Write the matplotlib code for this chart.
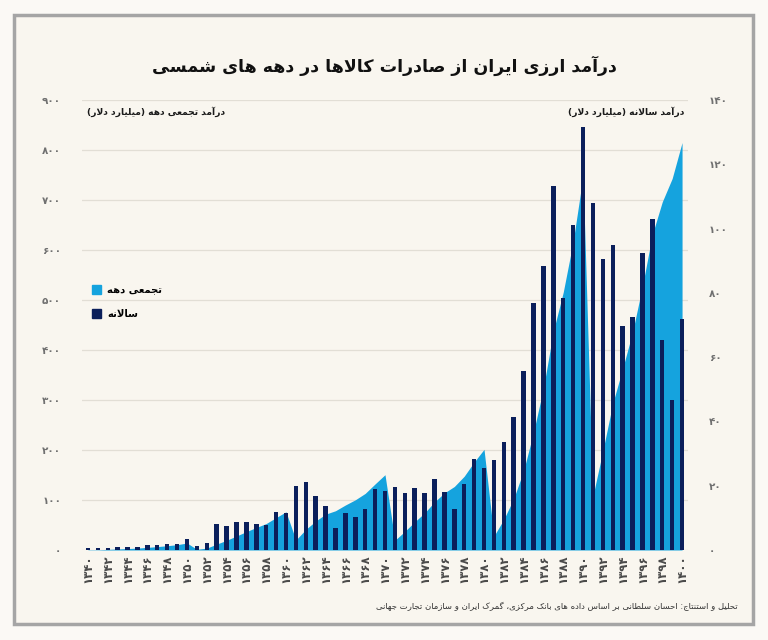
import matplotlib

matplotlib.use('Agg')
import matplotlib.pyplot as plt
import matplotlib.patches as mpatches
import numpy as np
import pandas as pd

# annual export revenue, billion USD, 1340..1400
years = np.arange(1340, 1401)
annual = [0.6, 0.6, 0.7, 0.8, 0.8, 0.9, 1.5, 1.5, 1.8, 2.0, 3.4,
          1.4, 2.3, 8.1, 7.6, 8.6, 8.8, 8.2, 7.9, 11.9, 11.6,
          20.0, 21.2, 16.7, 13.8, 6.8, 11.5, 10.4, 12.8, 19.0, 18.4,
          19.5, 17.7, 19.2, 17.8, 22.0, 18.0, 12.8, 20.6, 28.3, 25.4,
          27.9, 33.5, 41.5, 55.8, 76.8, 88.4, 113.3, 78.4, 101.0, 131.6,
          107.9, 90.4, 94.8, 69.8, 72.6, 92.4, 103.1, 65.3, 46.7, 71.9]
left_ticks = [0, 100, 200, 300, 400, 500, 600, 700, 800, 900]
right_ticks = [0, 20, 40, 60, 80, 100, 120, 140]
year_ticks = list(range(1340, 1401, 2))

TITLE = 'درآمد ارزی ایران از صادرات کالاها در دهه های شمسی'
LEFT_LABEL = 'درآمد تجمعی دهه (میلیارد دلار)'
RIGHT_LABEL = 'درآمد سالانه (میلیارد دلار)'
LEG_CUM = 'تجمعی دهه'
LEG_ANNUAL = 'سالانه'
SOURCE = 'تحلیل و استنتاج: احسان سلطانی بر اساس داده های بانک مرکزی، گمرک ایران و سازمان تجارت جهانی'

AREA_COLOR = '#15a3de'
BAR_COLOR = '#0b1f5b'

# presentation forms: isolated, final, initial, medial
_FORMS = {
    'ا': ('\uFE8D', '\uFE8E', None, None),
    'آ': ('\uFE81', '\uFE82', None, None),
    'ب': ('\uFE8F', '\uFE90', '\uFE91', '\uFE92'),
    'ت': ('\uFE95', '\uFE96', '\uFE97', '\uFE98'),
    'ج': ('\uFE9D', '\uFE9E', '\uFE9F', '\uFEA0'),
    'ح': ('\uFEA1', '\uFEA2', '\uFEA3', '\uFEA4'),
    'د': ('\uFEA9', '\uFEAA', None, None),
    'ر': ('\uFEAD', '\uFEAE', None, None),
    'ز': ('\uFEAF', '\uFEB0', None, None),
    'س': ('\uFEB1', '\uFEB2', '\uFEB3', '\uFEB4'),
    'ش': ('\uFEB5', '\uFEB6', '\uFEB7', '\uFEB8'),
    'ص': ('\uFEB9', '\uFEBA', '\uFEBB', '\uFEBC'),
    'ط': ('\uFEC1', '\uFEC2', '\uFEC3', '\uFEC4'),
    'ع': ('\uFEC9', '\uFECA', '\uFECB', '\uFECC'),
    'ل': ('\uFEDD', '\uFEDE', '\uFEDF', '\uFEE0'),
    'م': ('\uFEE1', '\uFEE2', '\uFEE3', '\uFEE4'),
    'ن': ('\uFEE5', '\uFEE6', '\uFEE7', '\uFEE8'),
    'ه': ('\uFEE9', '\uFEEA', '\uFEEB', '\uFEEC'),
    'و': ('\uFEED', '\uFEEE', None, None),
    'ک': ('\uFB8E', '\uFB8F', '\uFB90', '\uFB91'),
    'گ': ('\uFB92', '\uFB93', '\uFB94', '\uFB95'),
    'ی': ('\uFBFC', '\uFBFD', '\uFBFE', '\uFBFF'),
}
_LAM_ALEF = {'ا': ('\uFEFB', '\uFEFC'), 'آ': ('\uFEF5', '\uFEF6')}


def _dual(ch):
    return ch in _FORMS and _FORMS[ch][2] is not None


def fa(text):
    # poor man's arabic shaping + rtl ordering
    out = []
    i = 0
    n = len(text)
    while i < n:
        c = text[i]
        if c not in _FORMS:
            out.append(c)
            i += 1
            continue
        joins_prev = i > 0 and _dual(text[i - 1])
        if c == 'ل' and i + 1 < n and text[i + 1] in _LAM_ALEF:
            out.append(_LAM_ALEF[text[i + 1]][1 if joins_prev else 0])
            i += 2
            continue
        joins_next = _dual(c) and i + 1 < n and text[i + 1] in _FORMS
        iso, fin, ini, med = _FORMS[c]
        if joins_prev and joins_next:
            out.append(med)
        elif joins_prev:
            out.append(fin)
        elif joins_next:
            out.append(ini)
        else:
            out.append(iso)
        i += 1
    return ''.join(out)[::-1].translate(str.maketrans('()', ')('))


def fa_num(v):
    return str(v).translate(str.maketrans('0123456789', '۰۱۲۳۴۵۶۷۸۹'))


plt.rcParams['font.family'] = ['DejaVu Sans']

df = pd.DataFrame({'year': years, 'annual': annual})
df['decade'] = (df['year'] - 1) // 10
df['cum'] = df.groupby('decade')['annual'].cumsum()

fig = plt.figure(figsize=(7.68, 6.4), dpi=100, facecolor='#fbf9f5')
fig.patches.append(mpatches.Rectangle((14 / 768, 1 - 624 / 640), 739 / 768, 609 / 640,
                                      transform=fig.transFigure, facecolor='#f9f6ef',
                                      edgecolor='#a5a5a5', linewidth=2.5, zorder=-1))

ax = fig.add_axes([82 / 768, 1 - 550 / 640, 606 / 768, 450 / 640])
ax.set_facecolor('none')
ax.fill_between(df['year'], 0, df['cum'], color=AREA_COLOR, linewidth=0)
ax.set_ylim(0, 900)
ax.set_xlim(1339.4, 1400.6)
ax.set_yticks(left_ticks)
ax.set_yticklabels([fa_num(t) for t in left_ticks], color='#707070', fontsize=7.5, fontweight='bold')
ax.grid(axis='y', color='#e2ded5', linewidth=0.9)
ax.set_axisbelow(True)
ax.set_xticks(year_ticks)
ax.set_xticklabels([fa_num(y) for y in year_ticks], rotation=90, fontsize=8.5,
                   fontweight='bold', color='#4a4a4a')
ax.tick_params(length=0)
ax.tick_params(axis='y', pad=15)
ax.tick_params(axis='x', pad=3)
for s in ax.spines.values():
    s.set_visible(False)

ax2 = ax.twinx()
ax2.bar(df['year'], df['annual'], width=0.45, color=BAR_COLOR)
ax2.set_ylim(0, 140)
ax2.set_yticks(right_ticks)
ax2.set_yticklabels([fa_num(t) for t in right_ticks], color='#707070', fontsize=7.5, fontweight='bold')
ax2.tick_params(length=0, pad=15)
for s in ax2.spines.values():
    s.set_visible(False)

fig.text(0.5, 1 - 66 / 640, fa(TITLE), ha='center', va='center', fontsize=12.5,
         fontweight='bold', color='#111111')
fig.text(87 / 768, 1 - 112 / 640, fa(LEFT_LABEL), ha='left', va='center', fontsize=6.6,
         fontweight='bold', color='#1a1a1a')
fig.text(684 / 768, 1 - 112 / 640, fa(RIGHT_LABEL), ha='right', va='center', fontsize=6.6,
         fontweight='bold', color='#1a1a1a')

handles = [mpatches.Patch(color=AREA_COLOR, label=fa(LEG_CUM)),
           mpatches.Patch(color=BAR_COLOR, label=fa(LEG_ANNUAL))]
fig.legend(handles=handles, loc='upper left', bbox_to_anchor=(87 / 768, 1 - 280 / 640),
           frameon=False, handlelength=0.9, handleheight=0.9, handletextpad=0.6,
           labelspacing=1.4, borderpad=0, prop={'size': 7.2, 'weight': 'bold'})

fig.text(738 / 768, 1 - 607 / 640, fa(SOURCE), ha='right', va='center', fontsize=6.1,
         color='#333333')

fig.savefig('out.png', dpi=100, facecolor=fig.get_facecolor())
